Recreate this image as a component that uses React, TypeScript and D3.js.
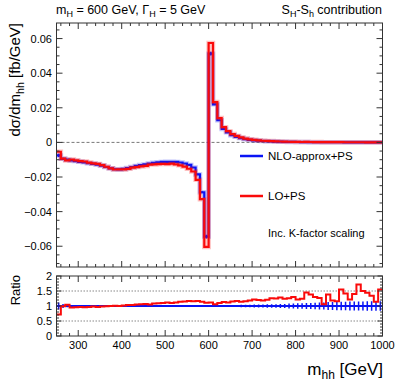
import * as d3 from 'd3'

// m_hh bins, 10 GeV wide
const binLow = [
    250, 260, 270, 280, 290, 300, 310, 320, 330, 340,
    350, 360, 370, 380, 390, 400, 410, 420, 430, 440,
    450, 460, 470, 480, 490, 500, 510, 520, 530, 540,
    550, 560, 570, 580, 590, 600, 610, 620, 630, 640,
    650, 660, 670, 680, 690, 700, 710, 720, 730, 740,
    750, 760, 770, 780, 790, 800, 810, 820, 830, 840,
    850, 860, 870, 880, 890, 900, 910, 920, 930, 940,
    950, 960, 970, 980, 990
]
const binWidth = 10

// NLO-approx+PS  dsigma/dm_hh [fb/GeV]
const nloValues = [
    -0.0075, -0.0095, -0.0100, -0.0104, -0.0108, -0.0112, -0.0115, -0.0120, -0.0124, -0.0128,
    -0.0134, -0.0142, -0.0150, -0.0155, -0.0156, -0.0153, -0.0148, -0.0142, -0.0136, -0.0131,
    -0.0127, -0.0122, -0.0118, -0.0115, -0.0113, -0.0112, -0.0112, -0.0113, -0.0116, -0.0122,
    -0.0130, -0.0145, -0.0185, -0.0288, -0.0544, 0.0513, 0.0220, 0.0128, 0.0078, 0.0058,
    0.0042, 0.0032, 0.0025, 0.0019, 0.0015, 0.0012, 0.0010, 0.0008, 0.0007, 0.0006,
    0.0005, 0.0004, 0.00035, 0.0003, 0.00025, 0.00022, 0.0002, 0.00018, 0.00016, 0.00015,
    0.00013, 0.00012, 0.00011, 0.0001, 0.00009, 0.00008, 0.00007, 0.00007, 0.00006, 0.00005,
    0.00005, 0.00004, 0.00004, 0.00003, 0.00003
]

// LO+PS / NLO-approx+PS
const ratioValues = [
    0.72, 0.99, 1.04, 0.95, 0.96, 0.97, 0.96, 0.97, 0.98, 0.97,
    0.98, 0.99, 1.00, 1.01, 1.00, 1.02, 1.03, 1.03, 1.05, 1.06,
    1.07, 1.05, 1.08, 1.09, 1.10, 1.12, 1.10, 1.12, 1.14, 1.15,
    1.17, 1.16, 1.17, 1.14, 1.11, 1.12, 1.06, 1.10, 1.13, 1.12,
    1.15, 1.17, 1.14, 1.16, 1.18, 1.22, 1.20, 1.18, 1.21, 1.26,
    1.25, 1.28, 1.24, 1.26, 1.30, 1.22, 1.24, 1.45, 1.38, 1.30,
    1.27, 1.06, 1.38, 1.18, 1.16, 1.55, 1.42, 1.22, 1.40, 1.72,
    1.50, 1.44, 1.34, 1.14, 1.55
]

// relative stat. error of NLO-approx+PS
const nloRelErr = [
    0.12, 0.07, 0.04, 0.03, 0.03, 0.02, 0.02, 0.02, 0.02, 0.02,
    0.02, 0.02, 0.02, 0.02, 0.02, 0.02, 0.02, 0.02, 0.02, 0.02,
    0.02, 0.02, 0.02, 0.02, 0.02, 0.02, 0.02, 0.02, 0.02, 0.02,
    0.02, 0.02, 0.02, 0.02, 0.02, 0.02, 0.02, 0.03, 0.03, 0.03,
    0.03, 0.03, 0.04, 0.04, 0.04, 0.05, 0.05, 0.05, 0.06, 0.06,
    0.06, 0.07, 0.07, 0.08, 0.08, 0.09, 0.09, 0.10, 0.10, 0.11,
    0.12, 0.12, 0.13, 0.13, 0.14, 0.14, 0.14, 0.15, 0.15, 0.15,
    0.15, 0.16, 0.16, 0.16, 0.16
]

const xTickLabels = [300, 400, 500, 600, 700, 800, 900, 1000]
const mainYTicks = [-0.06, -0.04, -0.02, 0, 0.02, 0.04, 0.06]
const ratioYTicks = [0, 0.5, 1, 1.5, 2]

const font = 'Liberation Sans, Arial, Helvetica, sans-serif'
const blue = '#0a14f5'
const red = '#fa0a0a'

function App() {
    const left = 56.5
    const right = 382.5
    const mainTop = 23
    const mainBottom = 267
    const ratioTop = 276
    const ratioBottom = 336

    const x = d3.scaleLinear().domain([250, 1000]).range([left, right])
    const y = d3.scaleLinear().domain([-0.072, 0.069]).range([mainBottom, mainTop])
    const yr = d3.scaleLinear().domain([0, 2]).range([ratioBottom, ratioTop])

    const loValues = nloValues.map((v, i) => v * ratioValues[i])

    const stepLine = (vals: number[], ys: d3.ScaleLinear<number, number>) => {
        const pts: [number, number][] = vals.map((v, i) => [binLow[i], v])
        pts.push([binLow[binLow.length - 1] + binWidth, vals[vals.length - 1]])
        return d3
            .line<[number, number]>()
            .x(d => x(d[0]))
            .y(d => ys(d[1]))
            .curve(d3.curveStepAfter)(pts) || ''
    }

    const minorX = d3.range(260, 1000, 20).filter(v => v % 100 !== 0)
    const majorX = d3.range(300, 1001, 100)
    const minorY = d3.range(-0.07, 0.0651, 0.005).filter(v => Math.abs(Math.round(v * 1000) % 20) > 0.5)
    const minorR = d3.range(0.1, 2, 0.1).filter(v => Math.abs(Math.round(v * 10) % 5) > 0.1)

    const fmtY = (v: number) => (v === 0 ? '0' : (v < 0 ? '\u2212' : '') + Math.abs(v).toFixed(2))

    return (
        <svg width={399} height={383} style={{ position: 'absolute', left: 0, top: 0, background: '#fff' }}
            fontFamily={font}>
            <defs>
                <clipPath id="mainClip">
                    <rect x={left} y={mainTop} width={right - left} height={mainBottom - mainTop} />
                </clipPath>
                <clipPath id="ratioClip">
                    <rect x={left} y={ratioTop} width={right - left} height={ratioBottom - ratioTop} />
                </clipPath>
            </defs>

            {/* titles */}
            <text x={56} y={14} fontSize={12.5}>
                m<tspan fontSize={9} dy={3}>H</tspan><tspan dy={-3}> = 600 GeV, Γ</tspan>
                <tspan fontSize={9} dy={3}>H</tspan><tspan dy={-3}> = 5 GeV</tspan>
            </text>
            <text x={382} y={14} fontSize={12.5} textAnchor="end">
                S<tspan fontSize={9} dy={3}>H</tspan><tspan dy={-3}>-S</tspan>
                <tspan fontSize={9} dy={3}>h</tspan><tspan dy={-3}> contribution</tspan>
            </text>

            {/* main panel */}
            <line x1={left} x2={right} y1={y(0)} y2={y(0)} stroke="#777" strokeWidth={1} strokeDasharray="3,2" />
            <g clipPath="url(#mainClip)">
                <path d={stepLine(nloValues, y)} fill="none" stroke={blue} strokeOpacity={0.25} strokeWidth={4.5} />
                <path d={stepLine(nloValues, y)} fill="none" stroke={blue} strokeWidth={2.2} />
                {nloValues.map((v, i) => (
                    <line key={i} x1={x(binLow[i] + binWidth / 2)} x2={x(binLow[i] + binWidth / 2)}
                        y1={y(v * (1 - nloRelErr[i]))} y2={y(v * (1 + nloRelErr[i]))}
                        stroke={blue} strokeWidth={1.5} />
                ))}
                <path d={stepLine(loValues, y)} fill="none" stroke={red} strokeOpacity={0.25} strokeWidth={4.5} />
                <path d={stepLine(loValues, y)} fill="none" stroke={red} strokeWidth={2.2} />
            </g>
            <rect x={left} y={mainTop} width={right - left} height={mainBottom - mainTop}
                fill="none" stroke="#333" strokeWidth={1} />
            {majorX.map(v => (
                <g key={'mx' + v}>
                    <line x1={x(v)} x2={x(v)} y1={mainBottom} y2={mainBottom - 6} stroke="#333" />
                    <line x1={x(v)} x2={x(v)} y1={mainTop} y2={mainTop + 6} stroke="#333" />
                </g>
            ))}
            {minorX.map(v => (
                <g key={'nx' + v}>
                    <line x1={x(v)} x2={x(v)} y1={mainBottom} y2={mainBottom - 3} stroke="#333" />
                    <line x1={x(v)} x2={x(v)} y1={mainTop} y2={mainTop + 3} stroke="#333" />
                </g>
            ))}
            {mainYTicks.map(v => (
                <g key={'my' + v}>
                    <line x1={left} x2={left + 6} y1={y(v)} y2={y(v)} stroke="#333" />
                    <line x1={right} x2={right - 6} y1={y(v)} y2={y(v)} stroke="#333" />
                    <text x={52} y={y(v) + 4} fontSize={11} textAnchor="end">{fmtY(v)}</text>
                </g>
            ))}
            {minorY.map(v => (
                <g key={'ny' + v}>
                    <line x1={left} x2={left + 3} y1={y(v)} y2={y(v)} stroke="#333" />
                    <line x1={right} x2={right - 3} y1={y(v)} y2={y(v)} stroke="#333" />
                </g>
            ))}
            <text transform="translate(20,23) rotate(-90)" fontSize={15} textAnchor="end">
                dσ/dm<tspan fontSize={10.5} dy={3.5}>hh</tspan><tspan dy={-3.5}> [fb/GeV]</tspan>
            </text>

            {/* legend */}
            <line x1={240} x2={263} y1={156} y2={156} stroke={blue} strokeWidth={2.5} />
            <text x={268} y={160} fontSize={11.5}>NLO-approx+PS</text>
            <line x1={240} x2={263} y1={196} y2={196} stroke={red} strokeWidth={2.5} />
            <text x={268} y={200} fontSize={11.5}>LO+PS</text>
            <text x={268} y={237} fontSize={11}>Inc. K-factor scaling</text>

            {/* ratio panel */}
            {[0.5, 1, 1.5].map(v => (
                <line key={'g' + v} x1={left} x2={right} y1={yr(v)} y2={yr(v)} stroke="#888"
                    strokeWidth={1} strokeDasharray="1.5,1.5" />
            ))}
            <g clipPath="url(#ratioClip)">
                <line x1={left} x2={right} y1={yr(1)} y2={yr(1)} stroke={blue} strokeWidth={2.2} />
                {nloRelErr.map((e, i) => (
                    <line key={i} x1={x(binLow[i] + binWidth / 2)} x2={x(binLow[i] + binWidth / 2)}
                        y1={yr(1 - e)} y2={yr(1 + e)} stroke={blue} strokeWidth={1.5} />
                ))}
                <path d={stepLine(ratioValues, yr)} fill="none" stroke={red} strokeWidth={2} />
            </g>
            <rect x={left} y={ratioTop} width={right - left} height={ratioBottom - ratioTop}
                fill="none" stroke="#333" strokeWidth={1} />
            {majorX.map(v => (
                <g key={'rx' + v}>
                    <line x1={x(v)} x2={x(v)} y1={ratioBottom} y2={ratioBottom - 6} stroke="#333" />
                    <line x1={x(v)} x2={x(v)} y1={ratioTop} y2={ratioTop + 6} stroke="#333" />
                </g>
            ))}
            {minorX.map(v => (
                <g key={'rnx' + v}>
                    <line x1={x(v)} x2={x(v)} y1={ratioBottom} y2={ratioBottom - 3} stroke="#333" />
                    <line x1={x(v)} x2={x(v)} y1={ratioTop} y2={ratioTop + 3} stroke="#333" />
                </g>
            ))}
            {xTickLabels.map(v => (
                <text key={'xl' + v} x={x(v)} y={349} fontSize={11} textAnchor="middle">{v}</text>
            ))}
            {ratioYTicks.map(v => (
                <g key={'ry' + v}>
                    <line x1={left} x2={left + 5} y1={yr(v)} y2={yr(v)} stroke="#333" />
                    <line x1={right} x2={right - 5} y1={yr(v)} y2={yr(v)} stroke="#333" />
                    <text x={52} y={yr(v) + 4} fontSize={11} textAnchor="end">{String(v)}</text>
                </g>
            ))}
            {minorR.map(v => (
                <g key={'rny' + v}>
                    <line x1={left} x2={left + 2.5} y1={yr(v)} y2={yr(v)} stroke="#333" />
                    <line x1={right} x2={right - 2.5} y1={yr(v)} y2={yr(v)} stroke="#333" />
                </g>
            ))}
            <text transform="translate(20,275) rotate(-90)" fontSize={13} textAnchor="end">Ratio</text>
            <text x={383} y={375} fontSize={17} textAnchor="end">
                m<tspan fontSize={12} dy={4}>hh</tspan><tspan dy={-4}> [GeV]</tspan>
            </text>
        </svg>
    )
}

export default App
